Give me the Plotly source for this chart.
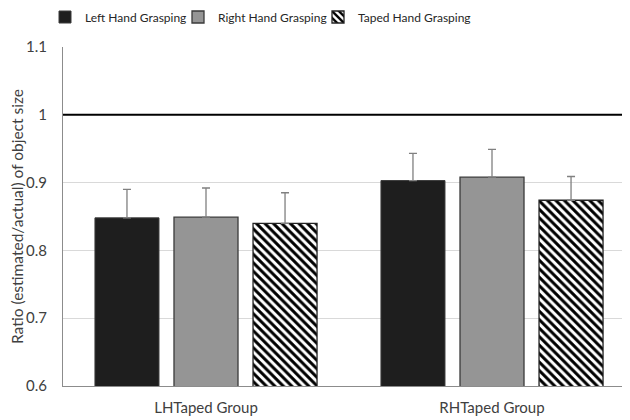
import plotly.graph_objects as go

groups = ["LHTaped Group", "RHTaped Group"]
series_names = ["Left Hand Grasping", "Right Hand Grasping", "Taped Hand Grasping"]
left_hand = [0.848, 0.903]
right_hand = [0.849, 0.908]
taped_hand = [0.840, 0.874]
left_err = [0.042, 0.040]
right_err = [0.043, 0.041]
taped_err = [0.045, 0.035]
y_ticks = [0.6, 0.7, 0.8, 0.9, 1.0, 1.1]
y_tick_labels = ["0.6", "0.7", "0.8", "0.9", "1", "1.1"]

FONT = "Lato"
err_style = dict(type="data", symmetric=False, arrayminus=[0, 0],
                 color="#808080", thickness=1.3, width=4)

fig = go.Figure()
fig.add_trace(go.Bar(
    x=groups, y=left_hand, name=series_names[0], legend="legend",
    marker=dict(color="#1e1e1e", line=dict(color="#3a3a3a", width=1)),
    error_y=dict(array=left_err, **err_style),
))
fig.add_trace(go.Bar(
    x=groups, y=right_hand, name=series_names[1], legend="legend2",
    marker=dict(color="#959595", line=dict(color="#3a3a3a", width=1.3)),
    error_y=dict(array=right_err, **err_style),
))
fig.add_trace(go.Bar(
    x=groups, y=taped_hand, name=series_names[2], legend="legend3",
    marker=dict(color="black", line=dict(color="#222222", width=1.3),
                pattern=dict(shape="\\", fgcolor="black", bgcolor="white",
                             fgopacity=1, fillmode="replace",
                             size=6, solidity=0.5)),
    error_y=dict(array=taped_err, **err_style),
))

fig.add_shape(type="line", xref="paper", x0=0, x1=1, yref="y", y0=1.0, y1=1.0,
              line=dict(color="black", width=2), layer="above")

legend_common = dict(orientation="h", xref="container", xanchor="left",
                     yref="container", y=1 - 9 / 412, yanchor="middle",
                     font=dict(family=FONT, size=12, color="#262626"),
                     itemwidth=30, bgcolor="rgba(0,0,0,0)")

# page body has an 8px margin: figure is sized/offset to compensate
fig.update_layout(
    width=622, height=412,
    margin=dict(l=55, r=0, t=39, b=34, autoexpand=False),
    paper_bgcolor="white", plot_bgcolor="white",
    barmode="group", bargap=0.171, bargroupgap=0.19,
    font=dict(family=FONT, size=15, color="#404040"),
    showlegend=True,
    legend=dict(x=37 / 622, **legend_common),
    legend2=dict(x=170 / 622, **legend_common),
    legend3=dict(x=310 / 622, **legend_common),
    xaxis=dict(showline=True, linecolor="#8c8c8c", linewidth=1,
               range=[-0.5, 1.4825],
               ticks="outside", ticklen=8, tickcolor="rgba(0,0,0,0)",
               automargin=False,
               tickfont=dict(size=15, color="#404040"), showgrid=False),
    yaxis=dict(range=[0.6, 1.1], tickvals=y_ticks, ticktext=y_tick_labels,
               automargin=False,
               showline=True, linecolor="#8c8c8c", linewidth=1,
               showgrid=True, gridcolor="#d9d9d9", gridwidth=1,
               ticks="outside", ticklen=12, tickcolor="rgba(0,0,0,0)",
               zeroline=False,
               tickfont=dict(size=15, color="#404040"),
               title=dict(text="Ratio (estimated/actual) of object size",
                          font=dict(size=15.5, color="#404040"), standoff=2)),
)

fig.write_html("out.html")
